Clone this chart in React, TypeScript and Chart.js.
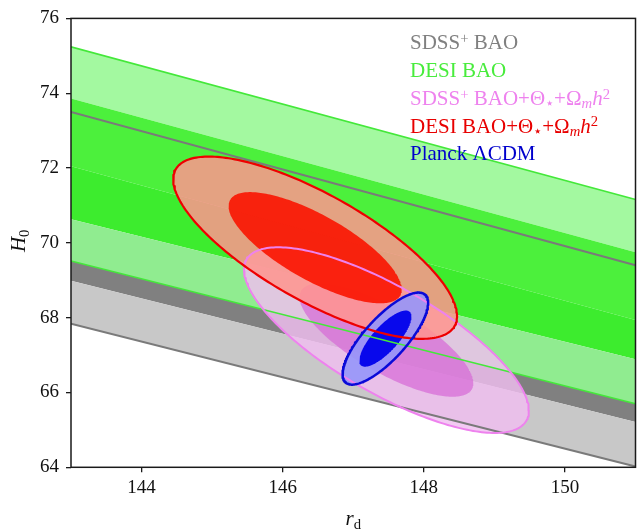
import { useEffect, useRef } from 'react';
import { Chart, registerables } from 'chart.js';

Chart.register(...registerables);

const FONT = '"Liberation Serif", "DejaVu Serif", serif';

// Axis ticks
const xTicks = [144, 146, 148, 150];
const yTicks = [64, 66, 68, 70, 72, 74, 76];

// BAO band edges: H0 at r_d = 143 and r_d = 151
const bandRd = [143, 151];
const desiUpper2 = [75.24, 71.16];
const desiUpper1 = [73.86, 69.75];
const sdssUpper2 = [73.5, 69.4];
const sdssUpper1 = [72.05, 67.94];
const desiLower1 = [70.63, 66.89];
const desiLower2 = [69.515, 65.7];
const sdssLower1 = [68.99, 65.21];
const sdssLower2 = [67.84, 64.02];

// Gaussian constraints: [SDSS+ BAO+CMB, DESI BAO+CMB, Planck LCDM]
const ellipseRd = [147.47, 146.46, 147.455];
const ellipseH0 = [67.4, 69.87, 67.44];
const ellipseSigmaRd = [0.812, 0.809, 0.244];
const ellipseSigmaH0 = [0.998, 0.98, 0.495];
const ellipseCorr = [-0.76, -0.75, 0.78];
const chi2Levels = [2.3, 6.18]; // 68% and 95% (2 parameters)

// Legend text (rich parts)
const legendLabels: [string, string][][] = [
  [['SDSS', 'n'], ['+', 'sup'], [' BAO', 'n']],
  [['DESI BAO', 'n']],
  [['SDSS', 'n'], ['+', 'sup'], [' BAO+Θ', 'n'], ['⋆', 'sub'], ['+Ω', 'n'], ['m', 'subi'], ['h', 'i'], ['2', 'sup']],
  [['DESI BAO+Θ', 'n'], ['⋆', 'sub'], ['+Ω', 'n'], ['m', 'subi'], ['h', 'i'], ['2', 'sup']],
  [['Planck ΛCDM', 'n']],
];
const legendColors = ['#808080', '#48ec3c', '#ee82ee', '#e80000', '#0000cc'];

const yTitle: [string, string][] = [['H', 'i'], ['0', 'sub']];
const xTitle: [string, string][] = [['r', 'i'], ['d', 'sub']];

function ellipse(i: number, dchi2: number) {
  const k = Math.sqrt(dchi2);
  const sx = ellipseSigmaRd[i];
  const sy = ellipseSigmaH0[i];
  const r = ellipseCorr[i];
  const pts: { x: number; y: number }[] = [];
  const n = 240;
  for (let j = 0; j <= n; j++) {
    const t = (2 * Math.PI * j) / n;
    pts.push({
      x: ellipseRd[i] + k * sx * Math.cos(t),
      y: ellipseH0[i] + k * sy * (r * Math.cos(t) + Math.sqrt(1 - r * r) * Math.sin(t)),
    });
  }
  return pts;
}

function band(top: number[], bot: number[]) {
  return [
    { x: bandRd[0], y: top[0] },
    { x: bandRd[1], y: top[1] },
    { x: bandRd[1], y: bot[1] },
    { x: bandRd[0], y: bot[0] },
  ];
}

function edge(v: number[]) {
  return [
    { x: bandRd[0], y: v[0] },
    { x: bandRd[1], y: v[1] },
  ];
}

function fontFor(m: string, size: number) {
  const small = m === 'sup' || m === 'sub' || m === 'subi';
  const s = small ? size * 0.7 : size;
  const it = m === 'i' || m === 'subi' ? 'italic ' : '';
  return `${it}${s}px ${FONT}`;
}

function partWidth(ctx: CanvasRenderingContext2D, parts: [string, string][], size: number) {
  let w = 0;
  for (const [t, m] of parts) {
    ctx.font = fontFor(m, size);
    w += ctx.measureText(t).width;
  }
  return w;
}

function drawRich(ctx: CanvasRenderingContext2D, parts: [string, string][], x: number, y: number, size: number) {
  let cx = x;
  for (const [t, m] of parts) {
    ctx.font = fontFor(m, size);
    let dy = 0;
    if (m === 'sup') dy = -size * 0.3;
    if (m === 'sub' || m === 'subi') dy = size * 0.17;
    ctx.fillText(t, cx, y + dy);
    cx += ctx.measureText(t).width;
  }
}

const overlayPlugin = {
  id: 'overlay',
  afterDatasetsDraw(chart: any) {
    const { ctx, chartArea: a } = chart;
    ctx.save();
    ctx.strokeStyle = '#1a1a1a';
    ctx.lineWidth = 1.5;
    ctx.strokeRect(a.left, a.top, a.right - a.left, a.bottom - a.top);

    ctx.textAlign = 'left';
    ctx.textBaseline = 'alphabetic';
    const lx = a.right - 225.5;
    legendLabels.forEach((parts, i) => {
      ctx.fillStyle = legendColors[i];
      drawRich(ctx, parts, lx, a.top + 31 + i * 27.7, 21);
    });

    // x title
    ctx.fillStyle = '#111';
    const xw = partWidth(ctx, xTitle, 21);
    drawRich(ctx, xTitle, (a.left + a.right) / 2 - xw / 2, a.bottom + 58, 21);

    // y title
    const yw = partWidth(ctx, yTitle, 21);
    ctx.translate(a.left - 46, (a.top + a.bottom) / 2 - 2 + yw / 2);
    ctx.rotate(-Math.PI / 2);
    drawRich(ctx, yTitle, 0, 0, 21);
    ctx.restore();
  },
};

export default function App() {
  const ref = useRef<HTMLCanvasElement | null>(null);

  useEffect(() => {
    if (!ref.current) return;
    const regionEdges = [desiUpper2, desiUpper1, sdssUpper1, desiLower1, desiLower2, sdssLower1, sdssLower2];
    const regionColors = [
      'rgb(163,249,160)',
      'rgb(76,240,60)',
      'rgb(61,236,46)',
      'rgb(144,236,144)',
      'rgb(128,128,128)',
      'rgb(200,200,200)',
    ];
    const datasets: any[] = [];
    for (let i = 0; i < regionColors.length; i++) {
      datasets.push({
        data: band(regionEdges[i], regionEdges[i + 1]),
        fill: 'shape',
        backgroundColor: regionColors[i],
        borderWidth: 0,
      });
    }
    datasets.push({ data: edge(sdssUpper2), fill: false, borderColor: '#7a7a7a', borderWidth: 2 });
    datasets.push({ data: edge(sdssLower2), fill: false, borderColor: '#7a7a7a', borderWidth: 2 });
    datasets.push({ data: edge(desiUpper2), fill: false, borderColor: '#44e83a', borderWidth: 1.6 });
    datasets.push({ data: edge(desiLower2), fill: false, borderColor: '#44e83a', borderWidth: 1.6 });

    const fills2 = ['rgba(240,190,240,0.82)', 'rgba(255,148,142,0.85)', 'rgba(150,150,250,0.9)'];
    const fills1 = ['rgba(215,110,215,0.75)', 'rgba(250,20,0,0.9)', 'rgba(0,0,235,0.95)'];
    const outlines = ['#ee82ee', '#ee0000', '#0a0ad8'];
    const widths = [2, 2.2, 2.5];
    for (let i = 0; i < 3; i++) {
      datasets.push({
        data: ellipse(i, chi2Levels[1]),
        fill: 'shape',
        backgroundColor: fills2[i],
        borderColor: outlines[i],
        borderWidth: widths[i],
        borderJoinStyle: 'round',
        borderCapStyle: 'round',
      });
      datasets.push({
        data: ellipse(i, chi2Levels[0]),
        fill: 'shape',
        backgroundColor: fills1[i],
        borderWidth: 0,
      });
    }
    datasets.forEach((d, i) => {
      d.order = datasets.length - i;
      d.pointRadius = 0;
      d.pointHoverRadius = 0;
      d.tension = 0;
    });

    const tickFont = { family: FONT, size: 19 };
    const chart = new Chart(ref.current, {
      type: 'line',
      data: { datasets },
      options: {
        animation: false,
        responsive: false,
        events: [],
        layout: { padding: { left: 0, right: 5.5, top: 14, bottom: 0 } },
        plugins: {
          legend: { display: false },
          tooltip: { enabled: false },
          filler: { drawTime: 'beforeDatasetsDraw', propagate: false },
        } as any,
        scales: {
          x: {
            type: 'linear',
            min: 143,
            max: 151,
            afterBuildTicks: (s: any) => {
              s.ticks = xTicks.map((v) => ({ value: v }));
            },
            afterFit: (s: any) => {
              s.height = 61.7;
            },
            border: { display: false },
            grid: { drawOnChartArea: false, tickLength: 5, color: '#1a1a1a', lineWidth: 1.3 },
            ticks: { font: tickFont, color: '#111', padding: 4, maxRotation: 0, autoSkip: false },
          },
          y: {
            type: 'linear',
            min: 64,
            max: 76,
            afterBuildTicks: (s: any) => {
              s.ticks = yTicks.map((v) => ({ value: v }));
            },
            afterFit: (s: any) => {
              s.width = 71;
            },
            border: { display: false },
            grid: { drawOnChartArea: false, tickLength: 5, color: '#1a1a1a', lineWidth: 1.3 },
            ticks: { font: tickFont, color: '#111', padding: 7, autoSkip: false },
          },
        },
      },
      plugins: [overlayPlugin],
    });
    return () => chart.destroy();
  }, []);

  return (
    <div style={{ position: 'absolute', left: 0, top: 0, width: 641, height: 529, background: '#fff' }}>
      <canvas ref={ref} width={641} height={529} style={{ width: 641, height: 529, display: 'block' }} />
    </div>
  );
}
